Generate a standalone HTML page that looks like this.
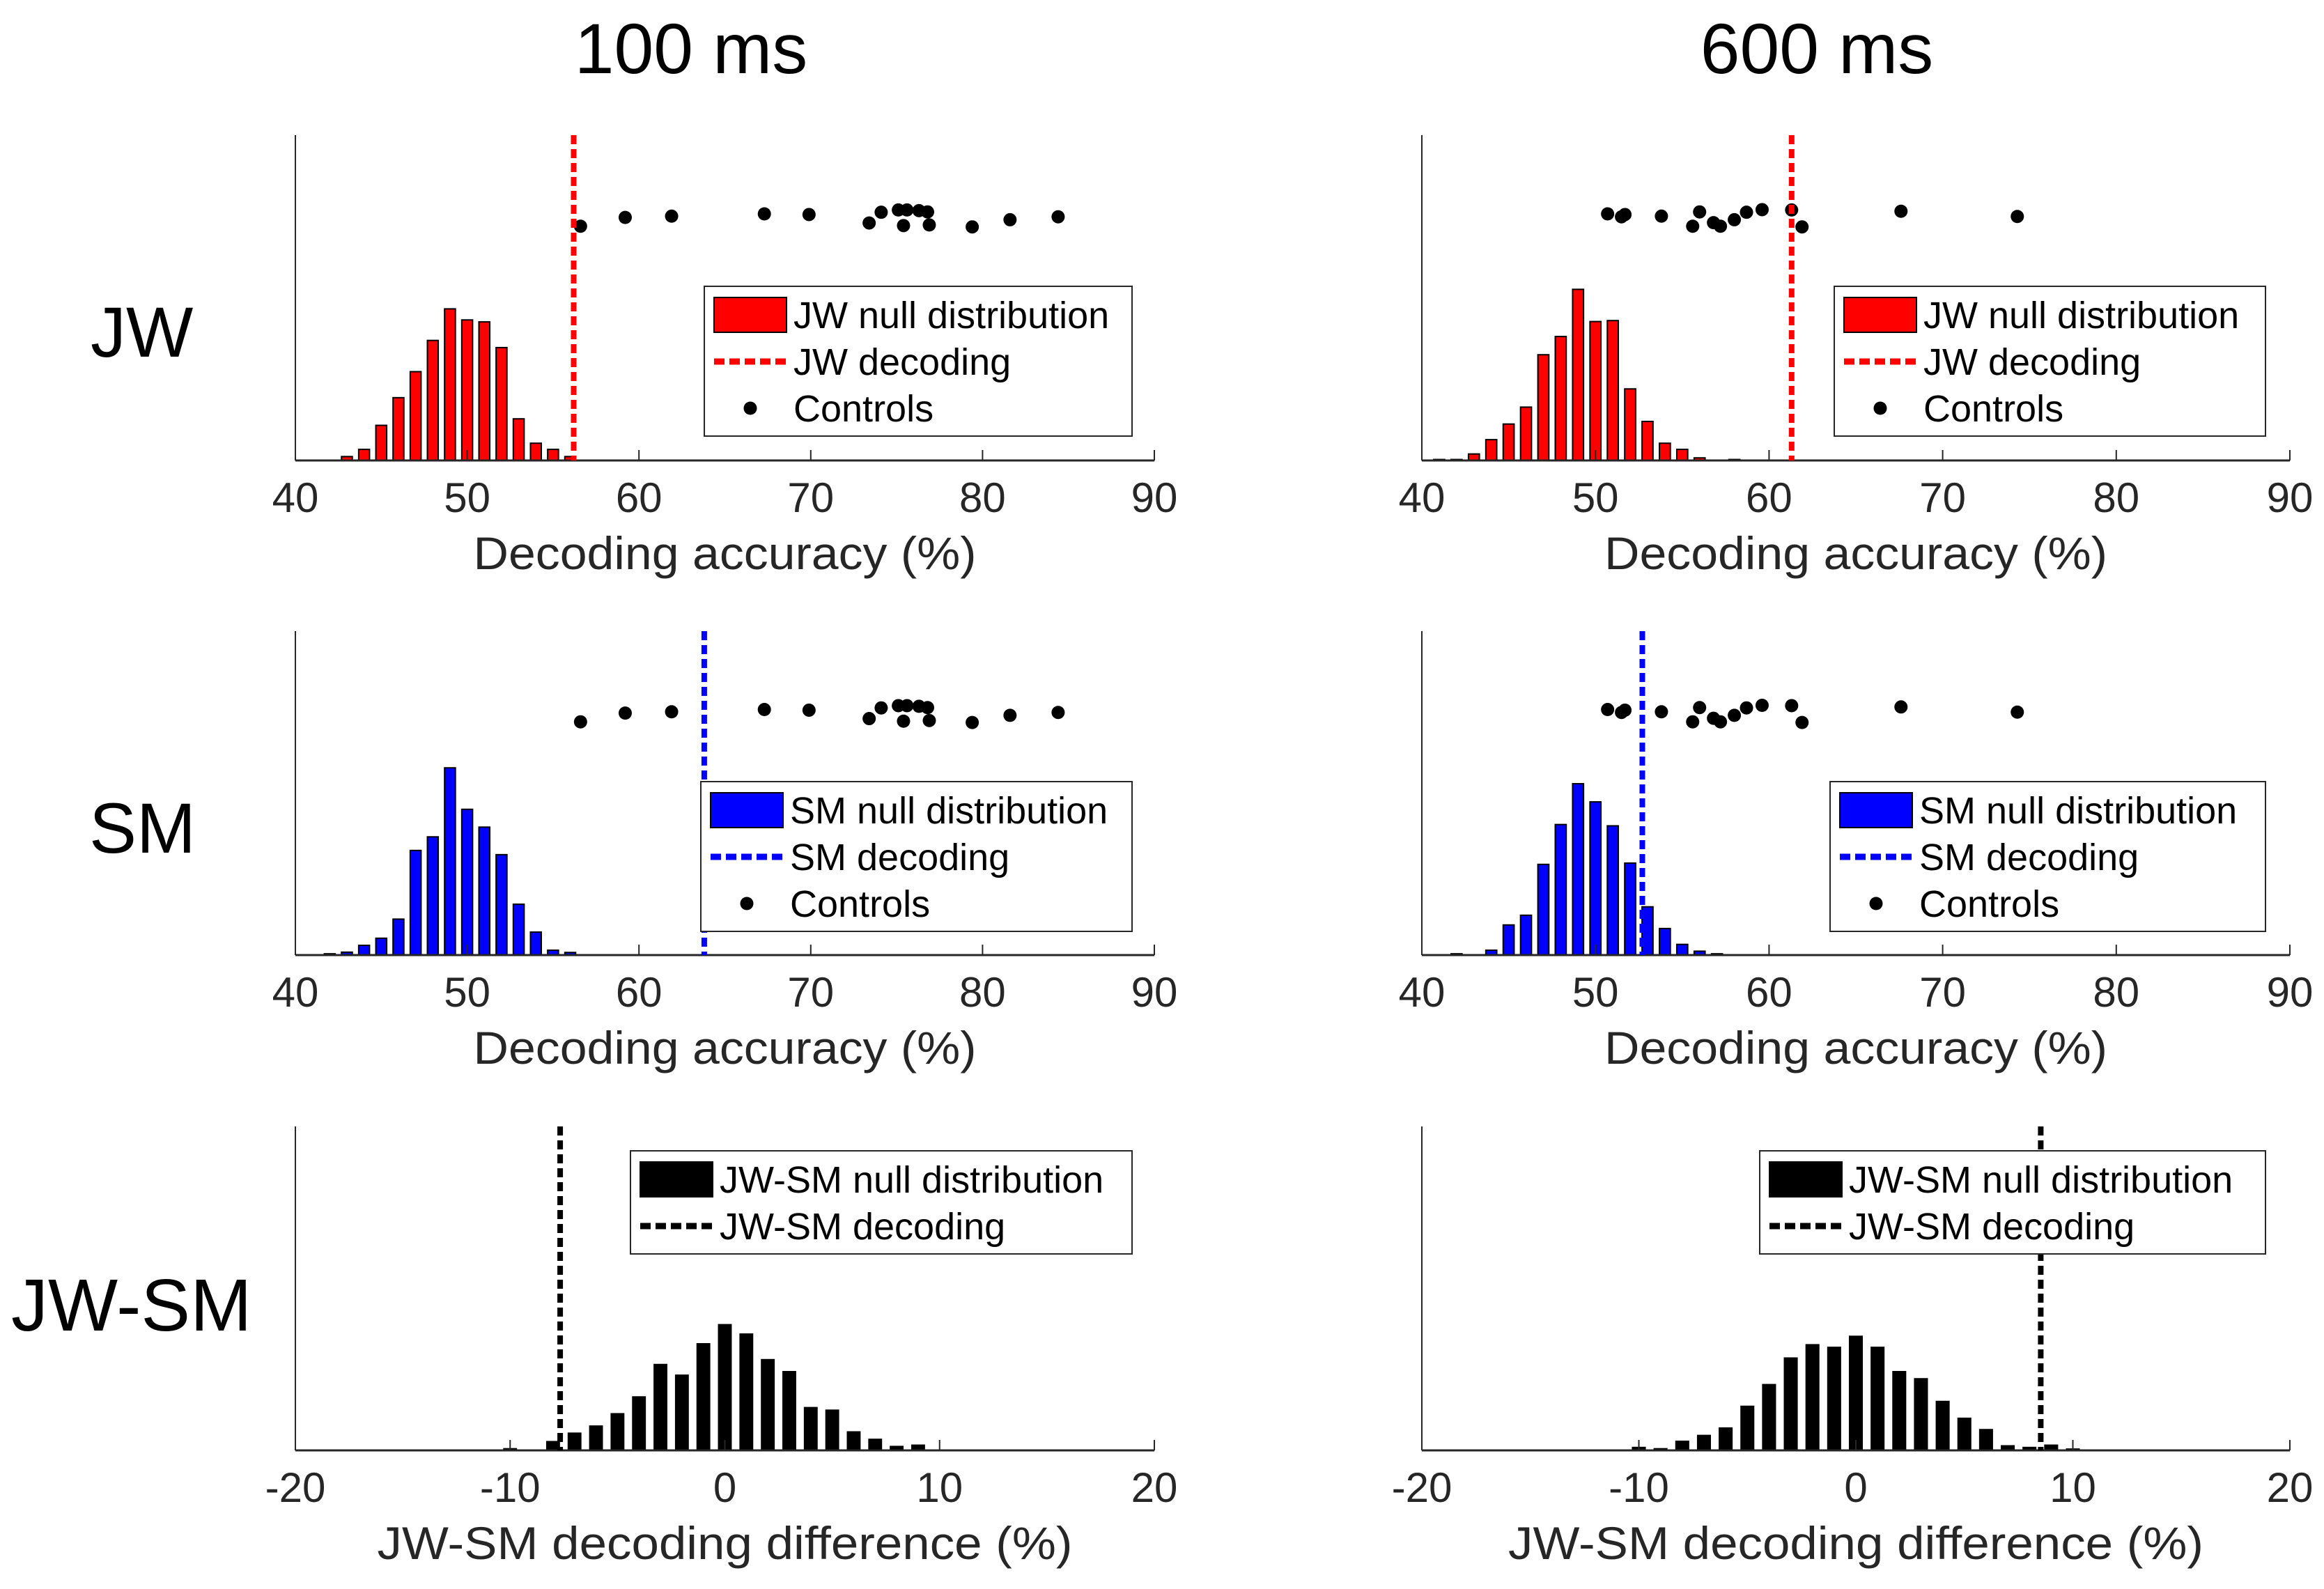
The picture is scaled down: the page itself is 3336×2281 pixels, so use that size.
<!DOCTYPE html>
<html><head><meta charset="utf-8">
<style>
html,body{margin:0;padding:0;background:#fff;}
svg{display:block;font-family:"Liberation Sans",Arial,sans-serif;}
</style></head>
<body>
<svg id="fig" width="3336" height="2281" viewBox="0 0 3336 2281" xmlns="http://www.w3.org/2000/svg">
<rect x="0" y="0" width="3336" height="2281" fill="#fff"/>
<text x="992" y="105" font-size="102" text-anchor="middle" fill="#000">100 ms</text>
<text x="2608" y="105" font-size="102" text-anchor="middle" fill="#000">600 ms</text>
<text x="130" y="512" font-size="102" fill="#000">JW</text>
<text x="128" y="1224" font-size="102" fill="#000">SM</text>
<text x="16" y="1910" font-size="106" fill="#000">JW-SM</text>
<g id="plots"></g>
</svg>
<script>
// ---- data ----
const accTicks = [40, 50, 60, 70, 80, 90];
const diffTicks = [-20, -10, 0, 10, 20];

const jw100Bins = [41,42,43,44,45,46,47,48,49,50,51,52,53,54,55,56,57,58,59];
const jw100Vals = [0,0,12,34,108,193,273,369,466,432,426,347,128,53,34,12,0,0,0];
const jw100Decoding = 56.2;

const jw600Bins = [41,42,43,44,45,46,47,48,49,50,51,52,53,54,55,56,57,58,59];
const jw600Vals = [3,3,20,64,112,164,325,381,526,427,430,220,120,53,34,8,0,3,0];
const jw600Decoding = 61.3;

const sm100Bins = [41,42,43,44,45,46,47,48,49,50,51,52,53,54,55,56,57,58,59];
const sm100Vals = [0,4,9,30,52,111,323,365,578,450,395,310,157,71,15,8,0,0,0];
const sm100Decoding = 63.8;

const sm600Bins = [41,42,43,44,45,46,47,48,49,50,51,52,53,54,55,56,57,58,59];
const sm600Vals = [0,4,0,15,93,123,280,403,529,473,399,284,149,82,33,12,4,0,0];
const sm600Decoding = 52.7;

const diff100Bins = [-10,-9,-8,-7,-6,-5,-4,-3,-2,-1,0,1,2,3,4,5,6,7,8,9];
const diff100Vals = [5,1,27,53,75,113,165,265,232,329,388,359,280,243,132,124,57,34,12,16];
const diff100Decoding = -7.67;

const diff600Bins = [-10,-9,-8,-7,-6,-5,-4,-3,-2,-1,0,1,2,3,4,5,6,7,8,9,10];
const diff600Vals = [9,5,28,46,69,136,203,285,326,318,352,318,243,221,151,99,64,14,9,16,4];
const diff600Decoding = 8.52;

const controls100X = [56.6,59.2,61.9,67.3,69.9,73.4,74.1,75.1,75.6,75.4,76.3,76.8,76.9,79.4,81.6,84.4];
const controls100Y = [720,747,751,758,756,730,763,770,770,722,768,764,724,718,740,749];
const controls600X = [50.7,51.5,51.7,53.8,55.6,56.0,56.8,57.2,58.0,58.7,59.6,61.3,61.9,67.6,74.3];
const controls600Y = [758,749,756,751,720,764,731,720,740,763,771,770,718,766,750];

// ---- drawing ----
const NS = "http://www.w3.org/2000/svg";
const root = document.getElementById('plots');
function mk(tag, attrs, parent) {
  const e = document.createElementNS(NS, tag);
  for (const k in attrs) e.setAttribute(k, attrs[k]);
  (parent || root).appendChild(e);
  return e;
}

function panel(p) {
  const g = mk('g', {});
  
  
  const xs = v => p.x0 + (v - p.dmin) / (p.dmax - p.dmin) * (p.x1 - p.x0);
  const ys = v => p.base - v / 1000 * (p.base - p.top);
  const unit = (p.x1 - p.x0) / (p.dmax - p.dmin);
  for (let i = 0; i < p.bins.length; i++) {
    const cx = xs(p.bins[i]);
    const w = unit * p.barFrac;
    const y = ys(p.vals[i]);
    const b = mk('rect', {x: cx - w / 2, y: y, width: w, height: Math.max(p.base - y, 0.5), fill: p.color, stroke: '#000', 'stroke-width': 2}, g);
    
    
  }
  const ya = mk('line', {x1: p.x0, y1: p.top, x2: p.x0, y2: p.base, stroke: '#262626', 'stroke-width': 2}, g);
  
  
  const xa = mk('line', {x1: p.x0, y1: p.base, x2: p.x1, y2: p.base, stroke: '#262626', 'stroke-width': 3}, g);
  
  
  for (const t of p.ticks) {
    const tx = xs(t);
    const tk = mk('line', {x1: tx, y1: p.base, x2: tx, y2: p.base - 15, stroke: '#262626', 'stroke-width': 2}, g);
    
    
    const tl = mk('text', {x: tx, y: p.base + 74, 'font-size': 60, 'text-anchor': 'middle', fill: '#262626'}, g);
    tl.textContent = String(t);
    
    
  }
  const xl = mk('text', {x: (p.x0 + p.x1) / 2, y: p.base + 156, 'font-size': 66, 'text-anchor': 'middle', fill: '#262626', textLength: p.xlabelW, lengthAdjust: 'spacingAndGlyphs'}, g);
  xl.textContent = p.xlabel;
  
  
  if (p.cx) {
    for (let i = 0; i < p.cx.length; i++) {
      const d = mk('circle', {cx: xs(p.cx[i]), cy: ys(p.cy[i]), r: 9.5, fill: '#000'}, g);
      
      
    }
  }
  const dl = mk('line', {x1: xs(p.dec), y1: p.top, x2: xs(p.dec), y2: p.base, stroke: p.lineColor, 'stroke-width': 8, 'stroke-dasharray': '13 7'}, g);
  
  
  const lg = mk('g', {}, g);
  
  
  const nRows = p.legend.length;
  const bh = nRows === 3 ? 215 : 148;
  mk('rect', {x: p.lx, y: p.ly, width: p.lx1 - p.lx, height: bh, fill: '#fff', stroke: '#262626', 'stroke-width': 2}, lg);
  const px = p.lx + 14;
  for (let r = 0; r < nRows; r++) {
    const cy = p.ly + 41 + r * 67;
    const item = p.legend[r];
    if (r === 0) {
      const s = mk('rect', {x: px, y: cy - 25, width: 104, height: 50, fill: p.color, stroke: '#000', 'stroke-width': 2}, lg);
      
      
    } else if (r === 1) {
      const s = mk('line', {x1: px, y1: cy, x2: px + 104, y2: cy, stroke: p.lineColor, 'stroke-width': 9, 'stroke-dasharray': '15 7'}, lg);
      
      
    } else {
      const s = mk('circle', {cx: px + 52, cy: cy, r: 9.5, fill: '#000'}, lg);
      
      
    }
    const t = mk('text', {x: px + 114, y: cy + 19, 'font-size': 54, fill: '#000'}, lg);
    t.textContent = item;
    
    
  }
}

const L = {x0: 424, x1: 1657}, R = {x0: 2041, x1: 3287};
const row1 = {top: 194, base: 661}, row2 = {top: 906, base: 1371}, row3 = {top: 1617, base: 2082};
const accLab = 'Decoding accuracy (%)', diffLab = 'JW-SM decoding difference (%)';

panel(Object.assign({name: 'jw-100ms-panel', dmin: 40, dmax: 90, ticks: accTicks, bins: jw100Bins, vals: jw100Vals, dec: jw100Decoding, cx: controls100X, cy: controls100Y, color: '#ff0000', lineColor: '#ff0000', barFrac: 0.63, xlabel: accLab, xlabelW: 722, lx: 1011, ly: 411, lx1: 1625, legend: ['JW null distribution', 'JW decoding', 'Controls']}, L, row1));
panel(Object.assign({name: 'jw-600ms-panel', dmin: 40, dmax: 90, ticks: accTicks, bins: jw600Bins, vals: jw600Vals, dec: jw600Decoding, cx: controls600X, cy: controls600Y, color: '#ff0000', lineColor: '#ff0000', barFrac: 0.63, xlabel: accLab, xlabelW: 722, lx: 2633, ly: 411, lx1: 3252, legend: ['JW null distribution', 'JW decoding', 'Controls']}, R, row1));
panel(Object.assign({name: 'sm-100ms-panel', dmin: 40, dmax: 90, ticks: accTicks, bins: sm100Bins, vals: sm100Vals, dec: sm100Decoding, cx: controls100X, cy: controls100Y, color: '#0000ff', lineColor: '#0000ff', barFrac: 0.63, xlabel: accLab, xlabelW: 722, lx: 1006, ly: 1122, lx1: 1625, legend: ['SM null distribution', 'SM decoding', 'Controls']}, L, row2));
panel(Object.assign({name: 'sm-600ms-panel', dmin: 40, dmax: 90, ticks: accTicks, bins: sm600Bins, vals: sm600Vals, dec: sm600Decoding, cx: controls600X, cy: controls600Y, color: '#0000ff', lineColor: '#0000ff', barFrac: 0.63, xlabel: accLab, xlabelW: 722, lx: 2627, ly: 1122, lx1: 3252, legend: ['SM null distribution', 'SM decoding', 'Controls']}, R, row2));
panel(Object.assign({name: 'diff-100ms-panel', dmin: -20, dmax: 20, ticks: diffTicks, bins: diff100Bins, vals: diff100Vals, dec: diff100Decoding, color: '#000000', lineColor: '#000000', barFrac: 0.58, xlabel: diffLab, xlabelW: 998, lx: 905, ly: 1652, lx1: 1625, legend: ['JW-SM null distribution', 'JW-SM decoding']}, L, row3));
panel(Object.assign({name: 'diff-600ms-panel', dmin: -20, dmax: 20, ticks: diffTicks, bins: diff600Bins, vals: diff600Vals, dec: diff600Decoding, color: '#000000', lineColor: '#000000', barFrac: 0.58, xlabel: diffLab, xlabelW: 998, lx: 2526, ly: 1652, lx1: 3252, legend: ['JW-SM null distribution', 'JW-SM decoding']}, R, row3));
</script>
</body></html>
